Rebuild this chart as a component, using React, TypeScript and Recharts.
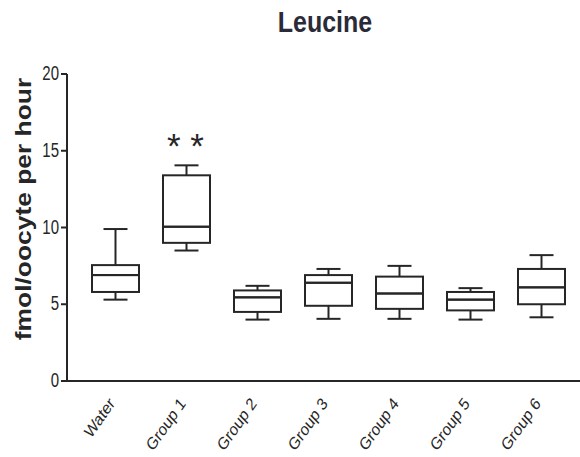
import { ComposedChart, Bar, XAxis, YAxis, LabelList } from 'recharts';

const groups = ['Water', 'Group 1', 'Group 2', 'Group 3', 'Group 4', 'Group 5', 'Group 6'];
const mins = [5.3, 8.5, 4.0, 4.05, 4.05, 4.0, 4.15];
const q1s = [5.8, 9.0, 4.5, 4.9, 4.7, 4.6, 5.0];
const medians = [6.9, 10.05, 5.45, 6.4, 5.7, 5.3, 6.1];
const q3s = [7.55, 13.4, 5.9, 6.9, 6.8, 5.8, 7.3];
const maxs = [9.9, 14.05, 6.2, 7.3, 7.5, 6.05, 8.2];
const marks = ['', '* *', '', '', '', '', ''];
const yTicks = [0, 5, 10, 15, 20];

const INK = '#262626';
const FONT = '"Liberation Sans", Arial, sans-serif';

// stacked segments: invisible base, lower whisker, lower box, upper box, upper whisker
const data = groups.map((g, i) => ({
  name: g,
  base: mins[i],
  lowWhisker: q1s[i] - mins[i],
  lowBox: medians[i] - q1s[i],
  highBox: q3s[i] - medians[i],
  highWhisker: maxs[i] - q3s[i],
  mark: marks[i],
}));

const LowWhisker = (props: any) => {
  const { x, y, width, height } = props;
  const cx = x + width / 2;
  return (
    <g stroke={INK} strokeWidth={2}>
      <line x1={cx} y1={y} x2={cx} y2={y + height} />
      <line x1={cx - 12} y1={y + height} x2={cx + 12} y2={y + height} />
    </g>
  );
};

const HighWhisker = (props: any) => {
  const { x, y, width, height } = props;
  const cx = x + width / 2;
  return (
    <g stroke={INK} strokeWidth={2}>
      <line x1={cx} y1={y} x2={cx} y2={y + height} />
      <line x1={cx - 12} y1={y} x2={cx + 12} y2={y} />
    </g>
  );
};

const BoxPart = (props: any) => {
  const { x, y, width, height } = props;
  return <rect x={x} y={y} width={width} height={height} fill="none" stroke={INK} strokeWidth={2} />;
};

const XTick = (props: any) => {
  const { x, y, payload } = props;
  return (
    <text
      transform={`translate(${x},${y + 15}) scale(1,1.2) rotate(-50)`}
      textAnchor="end"
      fontSize={14.5}
      fontFamily={FONT}
      fill={INK}
    >
      {payload.value}
    </text>
  );
};

const YTick = (props: any) => {
  const { x, y, payload } = props;
  return (
    <text
      transform={`translate(${x},${y + 6}) scale(1,1.3)`}
      textAnchor="end"
      fontSize={15}
      fontFamily={FONT}
      fill={INK}
    >
      {payload.value}
    </text>
  );
};

const YLabel = () => (
  <text
    transform="translate(31,209) scale(1,1.2) rotate(-90)"
    textAnchor="middle"
    fontSize={22}
    fontWeight="bold"
    fontFamily={FONT}
    fill={INK}
  >
    fmol/oocyte per hour
  </text>
);

const App = () => {
  return (
    <div style={{ position: 'absolute', left: 0, top: 0, width: 580, height: 457, background: '#fff' }}>
      <svg width={580} height={44} style={{ position: 'absolute', left: 0, top: 0 }}>
        <text
          transform="translate(325,32) scale(1,1.2)"
          textAnchor="middle"
          fontSize={25}
          fontWeight="bold"
          fontFamily={FONT}
          fill="#2a2a38"
        >
          Leucine
        </text>
      </svg>
      <ComposedChart
        width={580}
        height={457}
        data={data}
        margin={{ top: 74, right: 0, bottom: 0, left: 0 }}
      >
        <XAxis
          dataKey="name"
          height={76}
          padding={{ left: 13, right: 3 }}
          tickLine={false}
          axisLine={{ stroke: INK, strokeWidth: 2 }}
          tick={<XTick />}
          interval={0}
        />
        <YAxis
          domain={[0, 20]}
          ticks={yTicks}
          width={67}
          tickSize={6}
          tickMargin={2}
          tickLine={{ stroke: INK, strokeWidth: 2 }}
          axisLine={{ stroke: INK, strokeWidth: 2 }}
          tick={<YTick />}
          label={<YLabel />}
        />
        <Bar dataKey="base" stackId="box" barSize={47} fill="none" isAnimationActive={false} />
        <Bar dataKey="lowWhisker" stackId="box" barSize={47} shape={<LowWhisker />} isAnimationActive={false} />
        <Bar dataKey="lowBox" stackId="box" barSize={47} shape={<BoxPart />} isAnimationActive={false} />
        <Bar dataKey="highBox" stackId="box" barSize={47} shape={<BoxPart />} isAnimationActive={false} />
        <Bar dataKey="highWhisker" stackId="box" barSize={47} shape={<HighWhisker />} isAnimationActive={false}>
          <LabelList
            dataKey="mark"
            content={(p: any) =>
              p.value ? (
                <text
                  x={p.x + p.width / 2 - 1}
                  y={p.y - 7}
                  textAnchor="middle"
                  fontSize={35}
                  fontFamily={FONT}
                  fill={INK}
                >
                  {p.value}
                </text>
              ) : null
            }
          />
        </Bar>
      </ComposedChart>
    </div>
  );
};

export default App;
